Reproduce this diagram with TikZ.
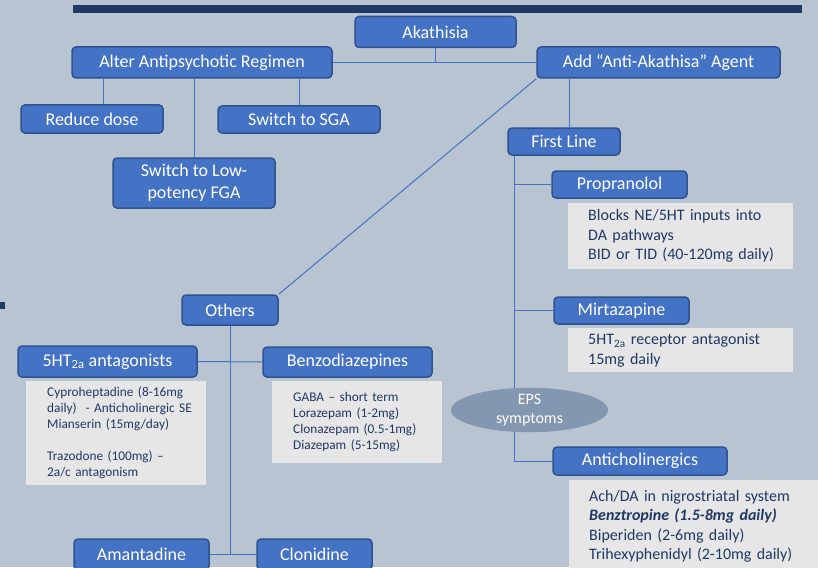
\documentclass[tikz,border=0pt]{standalone}
\usepackage{fontspec}
\setmainfont{Carlito}
\usepackage{xcolor}
\usetikzlibrary{positioning,shapes.geometric,calc}
\definecolor{boxblue}{HTML}{4472C4}
\definecolor{boxedge}{HTML}{2F528F}
\definecolor{slate}{HTML}{B8C4D2}
\definecolor{navy}{HTML}{1F3864}
\definecolor{notegray}{HTML}{E7E6E6}
\definecolor{epsgray}{HTML}{8497B0}

\begin{document}
\begin{tikzpicture}[x=1pt, y=-1pt,
  blk/.style={draw=boxedge, line width=1.5pt, rounded corners=4pt, fill=boxblue, text=white, inner sep=0pt, align=center, font=\fontsize{18}{22}\selectfont},
  note/.style={fill=notegray, text=navy, anchor=north west, align=left, inner xsep=0pt, inner ysep=0pt, execute at begin node={\leftskip=20pt\relax}, font=\fontsize{16}{19.5}\selectfont},
  small/.style={note, execute at begin node={\leftskip=21pt\relax}, font=\fontsize{13.3}{16}\selectfont},
  eps/.style={ellipse, fill=epsgray, text=white, inner sep=0pt, align=center, font=\fontsize{16}{18.5}\selectfont},
  link/.style={draw=boxblue, line width=1pt}
]
\fill[slate] (0,0) rectangle (818,567);
\useasboundingbox (0,0) rectangle (818,567);
\fill[navy] (73,5) rectangle (802,13);
\fill[navy] (0,302) rectangle (5,309);

\node[blk, minimum width=161pt, minimum height=31pt] (akath) at (435.5,32) {Akathisia};
\node[blk, minimum width=260pt, minimum height=31pt] (alter) at (202,62.5) {Alter Antipsychotic Regimen};
\node[blk, minimum width=243pt, minimum height=31pt] (addag) at (658.5,62.5) {Add “Anti-Akathisa” Agent};
\node[blk, minimum width=142pt, minimum height=28pt] (reduce) at (92,119) {Reduce dose};
\node[blk, minimum width=162pt, minimum height=27pt] (sga) at (299,119.5) {Switch to SGA};
\node[blk, minimum width=162pt, minimum height=50pt] (lowfga) at (194,183) {Switch to Low-\\potency FGA};
\node[blk, minimum width=112pt, minimum height=27pt] (first) at (564,141.5) {First Line};
\node[blk, minimum width=135pt, minimum height=27pt] (propr) at (619.5,184.5) {Propranolol};
\node[note, minimum height=66pt, text width=225pt] (propnote) at (568,203) {Blocks NE/5HT inputs into\\DA pathways\\BID or TID (40-120mg daily)};
\node[blk, minimum width=135pt, minimum height=27pt] (mirta) at (621.5,310.5) {Mirtazapine};
\node[note, minimum height=44pt, text width=225pt] (mirtnote) at (568,328) {5HT\textsubscript{2a} receptor antagonist\\15mg daily};
\node[blk, minimum width=174pt, minimum height=28pt] (anticho) at (640,461) {Anticholinergics};
\node[note, minimum height=92pt, text width=260pt] (antinote) at (569,480) {Ach/DA in nigrostriatal system\\\textbf{\textit{Benztropine (1.5-8mg daily)}}\\Biperiden (2-6mg daily)\\Trihexyphenidyl (2-10mg daily)};
\node[blk, minimum width=96pt, minimum height=30pt] (others) at (230,310) {Others};
\node[blk, minimum width=179pt, minimum height=31pt] (htwo) at (107.5,361.5) {5HT\textsubscript{2a} antagonists};
\node[small, minimum height=104pt, text width=180pt] (htnote) at (26,381) {Cyproheptadine (8-16mg\\daily)\ \ - Anticholinergic SE\\Mianserin (15mg/day)\\[16pt]Trazodone (100mg) –\\2a/c antagonism};
\node[blk, minimum width=169pt, minimum height=30pt] (benzo) at (347.5,362) {Benzodiazepines};
\node[small, minimum height=82pt, text width=170pt] (benznote) at (272,381) {GABA – short term\\Lorazepam (1-2mg)\\Clonazepam (0.5-1mg)\\Diazepam (5-15mg)};
\node[blk, minimum width=135pt, minimum height=31pt] (amant) at (141.5,554.5) {Amantadine};
\node[blk, minimum width=115pt, minimum height=31pt] (clon) at (314.5,554.5) {Clonidine};

\draw[link] (akath.south) -- (akath.south |- alter.east);
\draw[link] (alter.east) -- (addag.west);
\coordinate (redtop) at ([xshift=11pt]reduce.north);
\draw[link] (redtop) -- (redtop |- alter.south);
\draw[link] (lowfga.north) -- (lowfga.north |- alter.south);
\draw[link] (sga.north) -- (sga.north |- alter.south);
\coordinate (firsttop) at ([xshift=5pt]first.north);
\draw[link] (firsttop) -- (firsttop |- addag.south);
\coordinate (spine) at ([xshift=7pt]first.south west);
\draw[link] (spine) |- (anticho.west);
\draw[link] (spine |- propr.west) -- (propr.west);
\draw[link] (spine |- mirta.west) -- (mirta.west);
\draw[link] (addag.south west) -- (others.north east);
\draw[link] (htwo.east) -- (benzo.west);
\draw[link] (others.south) -- (others.south |- amant.east);
\draw[link] (amant.east) -- (clon.west);

\node[eps, minimum width=157pt, minimum height=44pt] (epsnode) at (529.5,410) {EPS\\symptoms};
\end{tikzpicture}
\end{document}
